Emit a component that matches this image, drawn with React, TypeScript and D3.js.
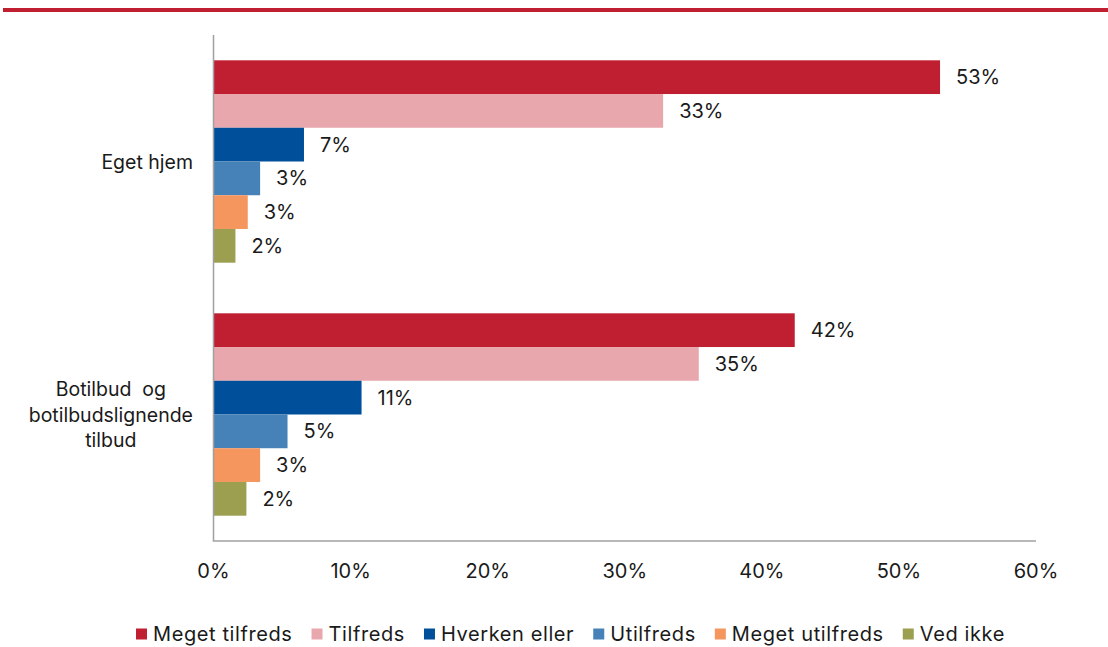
import React from "react";
import * as d3 from "d3";

const categories = ["Eget hjem", "Botilbud  og botilbudslignende tilbud"];
const categoryLines = [["Eget hjem"], ["Botilbud  og", "botilbudslignende", "tilbud"]];
const seriesNames = ["Meget tilfreds", "Tilfreds", "Hverken eller", "Utilfreds", "Meget utilfreds", "Ved ikke"];
const seriesColors = ["#C01F32", "#E8A7AD", "#004F9A", "#4682B8", "#F5965E", "#9C9E50"];
const egetHjem = [53.0, 32.8, 6.6, 3.4, 2.5, 1.6];
const botilbud = [42.4, 35.4, 10.8, 5.4, 3.4, 2.4];
const xTicks = [0, 10, 20, 30, 40, 50, 60];

const values = [egetHjem, botilbud];

const W = 1108;
const H = 647;
const left = 213.5;
const right = 1036;
const top = 35;
const bottom = 541;
const font = "Inter, 'Noto Sans', Arial, sans-serif";
const FS = 20;
const LS = 0.6;

function measure(text: string, size: number, ls = 0) {
  if (typeof document === "undefined") return text.length * size * 0.55;
  const c = document.createElement("canvas");
  const ctx = c.getContext("2d")!;
  ctx.font = `${size}px Inter`;
  return ctx.measureText(text).width + ls * text.length;
}

export default function App() {
  const x = d3.scaleLinear().domain([0, 60]).range([left, right]);
  const y0 = d3.scaleBand<string>().domain(categories).range([top, bottom]).paddingInner(0.2).paddingOuter(0.1);
  const y1 = d3.scaleBand<string>().domain(seriesNames).range([0, y0.bandwidth()]).padding(0);

  const legendY = 634;
  const sq = 11;
  let lx = 136;
  const legendItems = seriesNames.map((n, i) => {
    const item = { n, i, x: lx };
    lx += sq + 6 + measure(n, FS, LS) + 19;
    return item;
  });

  return (
    <svg width={W} height={H} style={{ position: "absolute", left: 0, top: 0, background: "#fff" }} fontFamily={font}>
      <rect x={3} y={8} width={W - 3} height={4} fill="#C01F32" />
      {categories.map((c, ci) => (
        <g key={c} transform={`translate(0,${y0(c)})`}>
          {seriesNames.map((s, si) => {
            const v = values[ci][si];
            const yy = y1(s)!;
            return (
              <g key={s}>
                <rect x={x(0)} y={yy} width={x(v) - x(0)} height={y1.bandwidth()} fill={seriesColors[si]} />
                <text x={x(v) + 16} y={yy + y1.bandwidth() / 2} dominantBaseline="central" fontSize={FS} fill="#1a1a1a">
                  {Math.round(v) + "%"}
                </text>
              </g>
            );
          })}
        </g>
      ))}
      {categories.map((c, ci) => {
        const lines = categoryLines[ci];
        const cy = y0(c)! + y0.bandwidth() / 2;
        const lh = 25.5;
        const maxW = Math.max(...lines.map((l) => measure(l, 19.5)));
        const cx = 193 - maxW / 2;
        return (
          <text key={c} fontSize={19.5} fill="#1a1a1a" textAnchor="middle" style={{ whiteSpace: "pre" }}>
            {lines.map((l, li) => (
              <tspan key={li} x={cx} y={cy + (li - (lines.length - 1) / 2) * lh} dominantBaseline="central">
                {l}
              </tspan>
            ))}
          </text>
        );
      })}
      <line x1={left} x2={left} y1={top} y2={bottom} stroke="#A0A0A0" strokeWidth={1.5} />
      <line x1={left - 0.75} x2={right} y1={bottom} y2={bottom} stroke="#A0A0A0" strokeWidth={1.5} />
      {xTicks.map((t) => (
        <text key={t} x={x(t)} y={571} textAnchor="middle" dominantBaseline="central" fontSize={FS} fill="#1a1a1a">
          {t + "%"}
        </text>
      ))}
      {legendItems.map((it) => (
        <g key={it.n}>
          <rect x={it.x} y={legendY - sq / 2} width={sq} height={sq} fill={seriesColors[it.i]} />
          <text x={it.x + sq + 6} y={legendY} dominantBaseline="central" fontSize={FS} letterSpacing={LS} fill="#1a1a1a">
            {it.n}
          </text>
        </g>
      ))}
    </svg>
  );
}
